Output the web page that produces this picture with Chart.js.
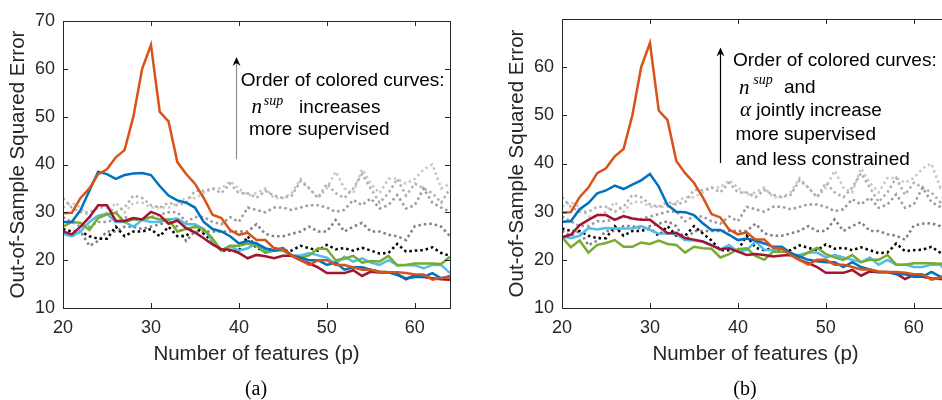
<!DOCTYPE html>
<html>
<head>
<meta charset="utf-8">
<script src="https://cdn.jsdelivr.net/npm/chart.js@4.4.1/dist/chart.umd.min.js"></script>
<style>
  html, body { margin: 0; padding: 0; background: #fff; }
  body { width: 942px; height: 400px; overflow: hidden; position: relative; }
  canvas { position: absolute; top: 0; }
  #chartA { left: 0; }
  #chartB { left: 471px; }
  .cap { position: absolute; top: 376px; line-height: 24px; font-family: "Liberation Serif", serif; font-size: 20px; color: #000; transform: translateX(-50%); }
</style>
</head>
<body>
<canvas id="chartA" width="471" height="400"></canvas>
<canvas id="chartB" width="490" height="400"></canvas>
<div class="cap" style="left:256px">(a)</div>
<div class="cap" style="left:745px">(b)</div>
<script>
// Number of features p (x axis)
const pValues = [20,21,22,23,24,25,26,27,28,29,30,31,32,33,34,35,36,37,38,39,40,41,42,
  43,44,45,46,47,48,49,50,51,52,53,54,55,56,57,58,59,60,61,62,63,64];

// baseline curves (dotted), same in both panels
const dotBlack = [26.5,26,26,25,24.5,24.5,27,25,26,26,26.5,25,27,25,25,27,25.5,24,22,22,22,25,22.5,22,22.5,
  22,22,23,22.5,22,23.2,22.3,22.5,22,22.6,22,21.4,21.5,23.4,21.8,22,22.1,22.7,21.5,20.9];
const dotGray1 = [26,25,26,23,24,26,26,27,27,26.5,27,27.5,28,27,24,26,26,26,26,26,26,26,27.5,25.5,25,
  25,25.5,26,27,26,26,28.4,26,27,27.8,26,26,25.3,25,24.2,27.1,27.5,27.6,27,25];
const dotGray2 = [29,28,27,27,28,28,28.5,29,28.5,28.5,29,29.5,30,30,28,29,29,28,27.5,29,28,31,30.5,30,31,
  31,30.5,31,31.5,31.5,31,30.1,30.5,32.6,31.5,32.9,30.8,31.5,33.6,30.8,31.5,35,32,31,30.1];
const dotGray3 = [33,31,30,30,31,31,30,31,33.5,33,31.5,31,32,31.5,32,34.5,34.5,35,34,36,34,34,33,34.5,33.5,
  33,33.5,36.5,35,33,36,34,33,35,38,35,32,34,37,33.5,36,35,34,32,35];
const dotGray4 = [31,32,31,29,29,30,32,30,32,32,31,31,31,32,33,33,34,35,35,36.5,35,33.5,34,35,33,
  33,34,37,35,33,35,38.5,35,34,39,36,34,37,37,36,37,39,40,35,36];

// colored curves, panel (a)
const orangeA = [29.8,29.9,33,35,38,39,41.5,43,50,60,65,51,49,40.5,38,36,33,29.5,28.8,26.3,25.3,25.7,24.2,24.2,22.5,
  22.3,21,20,19,20,20,19,19,18.5,18,18,17.6,17.5,17.5,17.3,17,17,15.9,16.3,16.5];
const blueA = [28,28,30.5,34.5,38.5,38,37,37.8,38.1,38.2,37.8,35.5,33.5,32.5,32,31,28,26.5,26,25,23.5,24,23.5,22.5,22,
  22.5,21,20.5,20,20,19,19.5,18,18.5,18.5,18,17.6,17.5,16.9,16.2,16.5,16.5,17.3,16.2,16.7];
const redA = [26,25.4,27,29,31.5,31.5,28.2,28.2,28.8,28.5,30.1,29.4,27.6,28.3,26.7,25.8,24.6,23.3,22.3,22.2,21.5,20.4,21.1,20.8,20.4,
  20.9,20.9,20,19.3,18.5,17.3,17.3,17.3,17.9,16.7,17.6,17.4,17.4,17.1,16,16.9,16.5,16.2,16,15.9];
const greenA = [27,28,27.8,26.3,28.8,29.6,29.9,28,28.5,28.5,29,28.5,28.5,26,26.5,27,26.5,24.5,22,23,23,23.5,23,21.5,22,
  22,21,20.5,21,22.5,22.3,20,20.3,20.9,19.5,19.8,19.7,20.9,18.9,19,19.3,19.3,19.3,19.2,20.7];
const cyanA = [25.5,25,26,28,29.3,29.7,28,28,27,28.4,28,28,28.5,28.7,27.5,27.5,26.5,24,22,23,22,22.5,23.5,22,22,
  22.5,21,21,21.5,21,20.5,19.3,20.7,19.7,20.4,19.5,19,20,19,19,18.9,18.3,19,19,17.3];

// colored curves, panel (b)
const orangeB = orangeA;
const blueB = [27.9,28,30.5,31.8,33.8,34.4,35.4,34.7,35.6,36.5,37.8,35.2,31.4,30,29.9,29.3,27.6,26.2,26.2,25.2,24.1,24.4,24,23.4,22.7,
  22.7,21.4,20.7,20,19.7,19.5,19.5,18.5,19.5,18.5,18,17.5,17.5,17,17,16.5,16.5,17.5,16.5,16.5];
const redB = [24.7,25.2,27.2,28.3,29.3,29.3,28.3,29.1,28.6,28.3,28.3,26.9,25.5,25.6,24.5,24.2,23.8,23,22.2,22.4,21.7,21,21.2,21,20.7,
  20.9,21,20,19.3,18.5,17.3,17.3,17.3,17.9,16.7,17.6,17.4,17.4,17.1,16,16.9,16.5,16.2,16,15.9];
const greenB = [24.7,22.6,24,21.5,23.1,23.5,24.1,22.7,22.7,23.6,23.3,24,23.3,23.1,21.5,22.7,22.4,22.3,20.5,21.2,22.2,22.4,20.8,20,21.7,
  21.7,21.5,20.5,21.5,22.5,21.2,20.5,20,21,19.5,20,20,21,19,19,19.3,19.3,19.3,19.2,19.3];
const cyanB = [24.9,24.5,25,26.6,26.3,26.6,26.5,26.5,26.5,27,26.2,25.4,25.5,25.3,24.1,24,23.8,23.1,22.1,23.1,21.7,22,23.8,22.1,22,
  22.5,21,21,21.5,21.5,20.5,21,20.5,20,19.5,20.5,19,20,19,19,18.5,18.5,19,19,17];

const xTitle = 'Number of features (p)';
const yTitle = 'Out-of-Sample Squared Error';
const FONT = '"Liberation Sans", Arial, sans-serif';
const AXIS = '#262626';

const pts = vals => vals.map((v, i) => ({ x: pValues[i], y: v }));

function solid(vals, color) {
  return { data: pts(vals), borderColor: color, borderWidth: 2.5, pointRadius: 0, tension: 0, fill: false };
}
function dotted(vals, color) {
  return { data: pts(vals), borderColor: color, borderWidth: 2.5, borderDash: [2.5, 3], borderCapStyle: 'butt',
    pointRadius: 0, tension: 0, fill: false };
}
function datasets(o, b, r, g, c) {
  // first dataset is drawn on top
  return [
    solid(o, '#D95319'), solid(b, '#0072BD'), solid(r, '#A2142F'), solid(g, '#77AC30'), solid(c, '#4DBEEE'),
    dotted(dotBlack, '#000000'), dotted(dotGray1, '#808080'), dotted(dotGray2, '#9a9a9a'),
    dotted(dotGray3, '#b0b0b0'), dotted(dotGray4, '#c8c8c8')
  ];
}

// box round the plot with inward tick marks
const framePlugin = {
  id: 'frame',
  afterDatasetsDraw(chart) {
    const { ctx, chartArea: a, scales: { x, y } } = chart;
    const tl = 5;
    ctx.save();
    ctx.strokeStyle = AXIS;
    ctx.lineWidth = 1;
    ctx.strokeRect(Math.round(a.left) + 0.5, Math.round(a.top) + 0.5, Math.round(a.right - a.left), Math.round(a.bottom - a.top));
    ctx.beginPath();
    x.ticks.forEach(t => {
      const px = Math.round(x.getPixelForValue(t.value)) + 0.5;
      ctx.moveTo(px, a.bottom); ctx.lineTo(px, a.bottom - tl);
      ctx.moveTo(px, a.top); ctx.lineTo(px, a.top + tl);
    });
    y.ticks.forEach(t => {
      const py = Math.round(y.getPixelForValue(t.value)) + 0.5;
      ctx.moveTo(a.left, py); ctx.lineTo(a.left + tl, py);
      ctx.moveTo(a.right, py); ctx.lineTo(a.right - tl, py);
    });
    ctx.stroke();
    ctx.restore();
  }
};

// arrow and text note inside the plot
const notesPlugin = {
  id: 'notes',
  afterDraw(chart, args, opts) {
    if (!opts || !opts.arrow) return;
    const { ctx, scales: { x, y } } = chart;
    const ax = Math.round(x.getPixelForValue(opts.arrow.x)) + 0.5;
    const yTop = y.getPixelForValue(opts.arrow.to);
    const yBot = y.getPixelForValue(opts.arrow.from);
    ctx.save();
    ctx.strokeStyle = opts.arrow.color;
    ctx.lineWidth = 1.2;
    ctx.beginPath();
    ctx.moveTo(ax, yBot);
    ctx.lineTo(ax, yTop + 4);
    ctx.stroke();
    ctx.fillStyle = '#000';
    ctx.beginPath();
    ctx.moveTo(ax, yTop);
    ctx.lineTo(ax - 4, yTop + 9);
    ctx.lineTo(ax, yTop + 6);
    ctx.lineTo(ax + 4, yTop + 9);
    ctx.closePath();
    ctx.fill();
    ctx.textBaseline = 'alphabetic';
    ctx.textAlign = 'left';
    opts.lines.forEach(l => {
      ctx.font = l.font;
      ctx.fillText(l.text, ax + l.dx, yTop + l.dy);
    });
    ctx.restore();
  }
};

const SANS = '19px ' + FONT;
const MATH = 'italic 21px "Liberation Serif", serif';
const MATHS = 'italic 14px "Liberation Serif", serif';

const notesA = {
  arrow: { x: 39.66, from: 41.1, to: 62.5, color: '#8c8c8c' },
  lines: [
    { text: 'Order of colored curves:', dx: 4.3, dy: 29, font: SANS },
    { text: 'n', dx: 15, dy: 56, font: MATH },
    { text: 'sup', dx: 27.3, dy: 48, font: MATHS },
    { text: 'increases', dx: 62.6, dy: 56.3, font: SANS },
    { text: 'more supervised', dx: 12.6, dy: 78.3, font: SANS }
  ]
};
const notesB = {
  arrow: { x: 37.91, from: 40.1, to: 64.1, color: '#000000' },
  lines: [
    { text: 'Order of colored curves:', dx: 12.4, dy: 19, font: SANS },
    { text: 'n', dx: 18.4, dy: 46.3, font: MATH },
    { text: 'sup', dx: 32.7, dy: 36.8, font: MATHS },
    { text: 'and', dx: 63.4, dy: 45.6, font: SANS },
    { text: '\u03B1', dx: 19.4, dy: 68.5, font: MATH },
    { text: 'jointly increase', dx: 35.7, dy: 68.5, font: SANS },
    { text: 'more supervised', dx: 15, dy: 92.3, font: SANS },
    { text: 'and less constrained', dx: 15, dy: 118, font: SANS }
  ]
};

function makeOptions(cfg) {
  return {
    responsive: false,
    animation: false,
    events: [],
    layout: { padding: { left: 0, right: cfg.padRight, top: cfg.padTop, bottom: 32 } },
    plugins: { legend: { display: false }, tooltip: { enabled: false }, notes: cfg.notes },
    scales: {
      x: {
        type: 'linear', min: 20, max: 64,
        grid: { display: false, drawTicks: false }, border: { display: false },
        ticks: { stepSize: 10, padding: 9, color: AXIS, font: { family: FONT, size: 18 }, maxRotation: 0 },
        afterBuildTicks: s => { s.ticks = s.ticks.filter(t => t.value % 10 === 0); },
        afterFit: s => { s.height = 60; },
        title: { display: true, text: xTitle, color: AXIS, font: { family: FONT, size: 20.5, lineHeight: 1.2 },
          padding: { top: 0, bottom: 1 } }
      },
      y: {
        type: 'linear', min: 10, max: 70,
        grid: { display: false, drawTicks: false }, border: { display: false },
        ticks: { stepSize: 10, padding: 8, color: AXIS, font: { family: FONT, size: 18 } },
        afterBuildTicks: s => { s.ticks = s.ticks.filter(t => cfg.yShow.includes(t.value)); },
        afterFit: s => { s.width = cfg.yWidth; },
        title: { display: true, text: yTitle, color: AXIS, font: { family: FONT, size: 20.5, lineHeight: 1.2 },
          padding: { top: cfg.titlePad, bottom: 0 } }
      }
    }
  };
}

new Chart(document.getElementById('chartA'), {
  type: 'line',
  data: { datasets: datasets(orangeA, blueA, redA, greenA, cyanA) },
  options: makeOptions({ padRight: 21, padTop: 21, yWidth: 63, titlePad: 6, notes: notesA,
    yShow: [10, 20, 30, 40, 50, 60, 70] }),
  plugins: [framePlugin, notesPlugin]
});

new Chart(document.getElementById('chartB'), {
  type: 'line',
  data: { datasets: datasets(orangeB, blueB, redB, greenB, cyanB) },
  options: makeOptions({ padRight: 12, padTop: 19, yWidth: 91, titlePad: 34, notes: notesB,
    yShow: [10, 20, 30, 40, 50, 60] }),
  plugins: [framePlugin, notesPlugin]
});
</script>
</body>
</html>
